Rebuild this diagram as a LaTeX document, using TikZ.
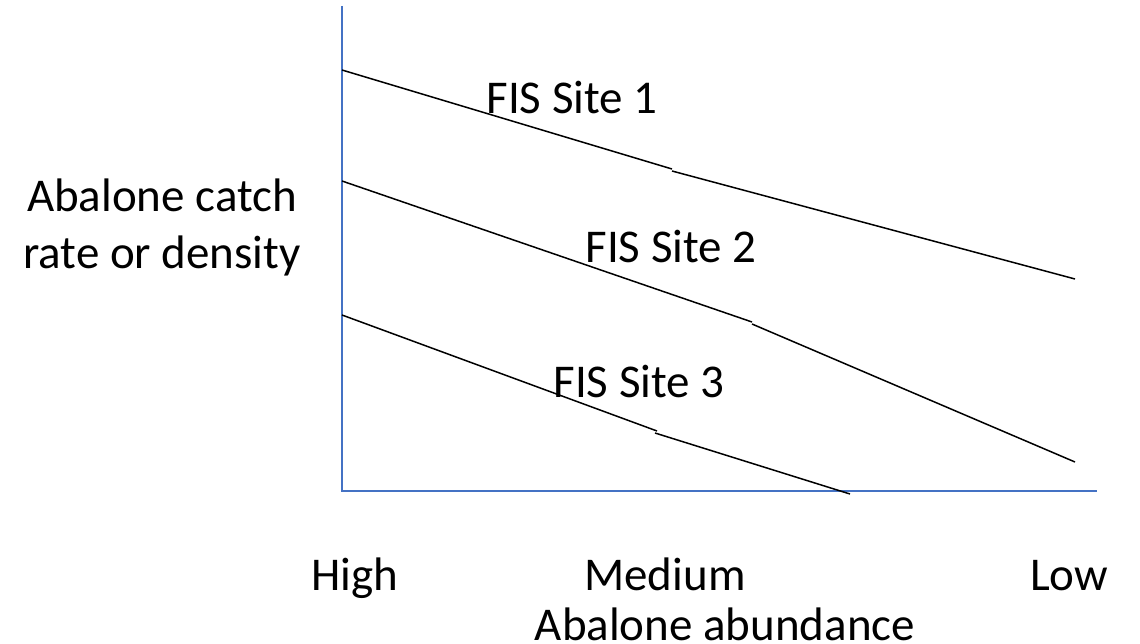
\documentclass[tikz,border=0pt]{standalone}
\usepackage{fontspec}
\setmainfont{Carlito}
\definecolor{axisblue}{RGB}{68,114,196}
\begin{document}
\begin{tikzpicture}[x=1pt,y=-1pt,
  axisline/.style={draw=axisblue,line width=1.5pt},
  siteline/.style={draw=black,line width=1.5pt},
  lbl/.style={font=\fontsize{47}{57}\selectfont,inner sep=0pt,anchor=base}]
\useasboundingbox (0,0) rectangle (1140,644);
% axes
\coordinate (ytop) at (342,6);
\coordinate (orig) at (342,491);
\coordinate (xend) at (1097,491);
\draw[axisline] (ytop) -- (orig) -- (xend);
% site lines
\coordinate (s1a) at (342,70);
\coordinate (s1b) at (672,169);
\coordinate (s1c) at (672,171);
\coordinate (s1d) at (1075,279);
\draw[siteline] (s1a) -- (s1b);
\draw[siteline] (s1c) -- (s1d);
\coordinate (s2a) at (342,181);
\coordinate (s2b) at (752,322);
\coordinate (s2c) at (752,324);
\coordinate (s2d) at (1075,462);
\draw[siteline] (s2a) -- (s2b);
\draw[siteline] (s2c) -- (s2d);
\coordinate (s3a) at (342,315);
\coordinate (s3b) at (657,431);
\coordinate (s3c) at (655,433);
\coordinate (s3d) at (850,494);
\draw[siteline] (s3a) -- (s3b);
\draw[siteline] (s3c) -- (s3d);
% labels
\node[lbl] (l1) at (572,114) {FIS Site 1};
\node[lbl] (l2) at (671,262) {FIS Site 2};
\node[lbl] (l3) at (639,397) {FIS Site 3};
\node[font=\fontsize{47}{57}\selectfont,inner sep=0pt,align=center] (ylab) at (162,227) {Abalone catch\\rate or density};
\node[lbl] (hi) at (355,590) {High};
\node[lbl] (med) at (665,590) {Medium};
\node[lbl] (low) at (1069,590) {Low};
\node[lbl,text depth=0pt] (xlab) at (725,640) {Abalone abundance};
\end{tikzpicture}
\end{document}
